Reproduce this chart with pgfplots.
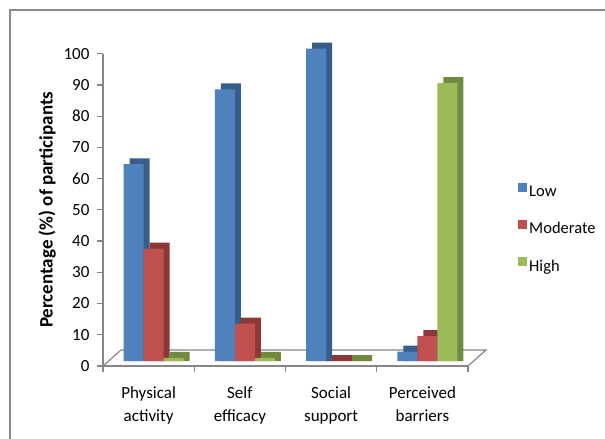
\documentclass[border=0pt]{standalone}
\usepackage{pgfplots}
\pgfplotsset{compat=1.18}
\usepackage{pgfplotstable}
\usepackage{fontspec}
\setmainfont{Carlito}

% Office-style palette: front faces and darker side/top faces
\definecolor{lowF}{HTML}{4F81BD}
\definecolor{lowS}{HTML}{385D8A}
\definecolor{modF}{HTML}{C0504D}
\definecolor{modS}{HTML}{8C3836}
\definecolor{highF}{HTML}{9BBB59}
\definecolor{highS}{HTML}{71893F}
\definecolor{axisgray}{HTML}{868686}
\definecolor{framegray}{HTML}{8A8A8A}

% Percentage of participants at each level
\pgfplotstableread{
idx low moderate high
0   63  36       1
1   87  12       1
2   100 0        0
3   3   8        89
}\levels

\pgfplotsset{
  sqlegend/.style={legend image code/.code={%
      \fill[##1] (0pt,-5pt) rectangle (9pt,4pt);}},
  front/.style={ybar, bar width=20pt, draw=none, yshift=5pt, sqlegend},
  side/.style={ybar, bar width=20pt, draw=none, yshift=5pt, forget plot},
}

\begin{document}
\begin{tikzpicture}[font=\fontsize{17}{23}\selectfont]
\useasboundingbox (-103pt,-73pt) rectangle (502pt,366pt);
% chart frame
\draw[framegray, line width=2pt] (-93pt,-80pt) -- (-93pt,356pt) -- (510pt,356pt);
% floor of the plot area
\draw[axisgray, line width=1.2pt] (0pt,0pt) -- (18pt,16pt) -- (383pt,16pt) -- (365pt,0pt);
\begin{axis}[
  at={(0pt,0pt)}, anchor=south west, scale only axis,
  width=365pt, height=312.3pt,
  xmin=-0.5, xmax=3.5, ymin=0, ymax=100,
  clip=false,
  axis x line*=bottom, axis y line*=left,
  axis line style={axisgray, line width=1.2pt},
  tick style={axisgray, line width=1.2pt},
  tick align=outside,
  major tick length=6pt, minor tick length=6pt,
  ytick={0,10,...,100},
  xtick={0,1,2,3},
  xticklabels={{Physical\\activity},{Self\\efficacy},{Social\\support},{Perceived\\barriers}},
  major x tick style={draw=none},
  minor xtick={-0.5,0.5,1.5,2.5,3.5},
  xticklabel style={align=center, yshift=-11pt},
  yticklabel style={xshift=-4pt},
  /pgf/number format/assume math mode=true,
  ylabel={Percentage (\%) of participants},
  every axis y label/.style={at={(axis description cs:-0.153,0.5)}, rotate=90,
    anchor=center, font=\bfseries\fontsize{19}{22}\selectfont},
  legend style={at={(1.137,0.44)}, anchor=west, draw=none, fill=none,
    inner sep=0pt, row sep=20pt, nodes={inner sep=2pt},
    font=\fontsize{16.5}{20}\selectfont},
  legend cell align=left,
]
\addplot[side, bar shift=-9pt, fill=lowS]  table[x=idx, y expr=\thisrow{low}+1.92] {\levels};
\addplot[front, bar shift=-15pt, fill=lowF] table[x=idx, y=low] {\levels};
\addplot[side, bar shift=11pt, fill=modS]  table[x=idx, y expr=\thisrow{moderate}+1.92] {\levels};
\addplot[front, bar shift=5pt, fill=modF]  table[x=idx, y=moderate] {\levels};
\addplot[side, bar shift=31pt, fill=highS] table[x=idx, y expr=\thisrow{high}+1.92] {\levels};
\addplot[front, bar shift=25pt, fill=highF] table[x=idx, y=high] {\levels};
\legend{Low, Moderate, High}
\end{axis}
\end{tikzpicture}
\end{document}
